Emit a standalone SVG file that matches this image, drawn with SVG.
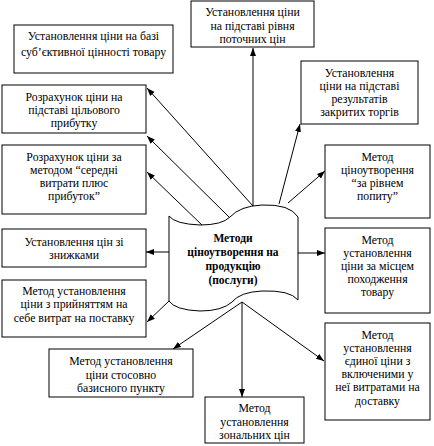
<svg xmlns="http://www.w3.org/2000/svg" width="434" height="446" viewBox="0 0 434 446">
<style>
.box{fill:#fff;stroke:#000;stroke-width:1}
.t{font-family:"Liberation Serif","Times New Roman",serif;font-size:11.8px;fill:#000;text-anchor:middle}
.b{font-weight:bold;font-size:11.5px}
.c{fill:none;stroke:#000;stroke-width:1;marker-end:url(#ah)}
</style>
<defs>
<marker id="ah" markerUnits="userSpaceOnUse" markerWidth="9" markerHeight="7" refX="8" refY="3" orient="auto">
<path d="M0,0 L8,3 L0,6 z" fill="#000"/>
</marker>
</defs>
<rect width="434" height="446" fill="#fff"/>
<g id="connectors">
<line class="c" x1="253" y1="206" x2="253" y2="48"/>
<line class="c" x1="279" y1="204" x2="300" y2="124"/>
<line class="c" x1="288" y1="203" x2="325" y2="171"/>
<line class="c" x1="298" y1="253" x2="325" y2="253"/>
<line class="c" x1="242" y1="302" x2="324" y2="361"/>
<line class="c" x1="242" y1="302" x2="242" y2="397"/>
<line class="c" x1="242" y1="302" x2="173" y2="349"/>
<line class="c" x1="169" y1="301" x2="147" y2="322"/>
<line class="c" x1="169" y1="252" x2="146" y2="252"/>
<line class="c" x1="203" y1="226" x2="147" y2="172"/>
<line class="c" x1="230" y1="218" x2="147" y2="136"/>
<line class="c" x1="253" y1="206" x2="147" y2="88"/>
</g>
<g id="center">
<path class="box" d="M169,216 Q175,224 200,225 Q222,225 230,217 Q240,206 262,205 Q290,204 298,217 L298,300 Q290,290 262,291 Q240,292 232,302 Q222,311 200,311 Q175,310 169,301 Z"/>
<text class="t b" x="233" y="242">Методи</text>
<text class="t b" x="233" y="256">ціноутворення на</text>
<text class="t b" x="233" y="270">продукцію</text>
<text class="t b" x="233" y="284">(послуги)</text>
</g>
<g id="n1">
<rect class="box" x="14" y="25" width="159" height="48"/>
<text class="t" x="93.5" y="40">Установлення ціни на базі</text>
<text class="t" x="93.5" y="56">суб’єктивної цінності товару</text>
</g>
<g id="n2">
<rect class="box" x="191" y="1" width="123" height="46"/>
<text class="t" x="252.5" y="16">Установлення ціни</text>
<text class="t" x="252.5" y="30">на підставі рівня</text>
<text class="t" x="252.5" y="43">поточних цін</text>
</g>
<g id="n3">
<rect class="box" x="301" y="61" width="117" height="63"/>
<text class="t" x="359.5" y="77">Установлення</text>
<text class="t" x="359.5" y="90">ціни на підставі</text>
<text class="t" x="359.5" y="103">результатів</text>
<text class="t" x="359.5" y="116">закритих торгів</text>
</g>
<g id="n4">
<rect class="box" x="2" y="85" width="144" height="48"/>
<text class="t" x="74" y="101">Розрахунок ціни на</text>
<text class="t" x="74" y="114">підставі цільового</text>
<text class="t" x="74" y="127">прибутку</text>
</g>
<g id="n5">
<rect class="box" x="2" y="145" width="144" height="69"/>
<text class="t" x="74" y="161">Розрахунок ціни за</text>
<text class="t" x="74" y="174">методом “середні</text>
<text class="t" x="74" y="187">витрати плюс</text>
<text class="t" x="74" y="200">прибуток”</text>
</g>
<g id="n6">
<rect class="box" x="2" y="229" width="144" height="38"/>
<text class="t" x="74" y="246">Установлення цін зі</text>
<text class="t" x="74" y="259">знижками</text>
</g>
<g id="n7">
<rect class="box" x="2" y="280" width="144" height="57"/>
<text class="t" x="74" y="295">Метод установлення</text>
<text class="t" x="74" y="308">ціни з прийняттям на</text>
<text class="t" x="74" y="322">себе витрат на поставку</text>
</g>
<g id="n8">
<rect class="box" x="49" y="349" width="144" height="48"/>
<text class="t" x="121" y="365">Метод установлення</text>
<text class="t" x="121" y="379">ціни стосовно</text>
<text class="t" x="121" y="392">базисного пункту</text>
</g>
<g id="n9">
<rect class="box" x="205" y="397" width="99" height="46"/>
<text class="t" x="254.5" y="412">Метод</text>
<text class="t" x="254.5" y="426">установлення</text>
<text class="t" x="254.5" y="439">зональних цін</text>
</g>
<g id="n10">
<rect class="box" x="325" y="323" width="105" height="97"/>
<text class="t" x="377.5" y="339">Метод</text>
<text class="t" x="377.5" y="352">установлення</text>
<text class="t" x="377.5" y="365">єдиної ціни з</text>
<text class="t" x="377.5" y="378">включеними у</text>
<text class="t" x="377.5" y="391">неї витратами на</text>
<text class="t" x="377.5" y="405">доставку</text>
</g>
<g id="n11">
<rect class="box" x="325" y="228" width="105" height="85"/>
<text class="t" x="377.5" y="244">Метод</text>
<text class="t" x="377.5" y="257">установлення</text>
<text class="t" x="377.5" y="270">ціни за місцем</text>
<text class="t" x="377.5" y="283">походження</text>
<text class="t" x="377.5" y="296">товару</text>
</g>
<g id="n12">
<rect class="box" x="325" y="145" width="105" height="73"/>
<text class="t" x="377.5" y="161">Метод</text>
<text class="t" x="377.5" y="174">ціноутворення</text>
<text class="t" x="377.5" y="187">“за рівнем</text>
<text class="t" x="377.5" y="200">попиту”</text>
</g>
</svg>
